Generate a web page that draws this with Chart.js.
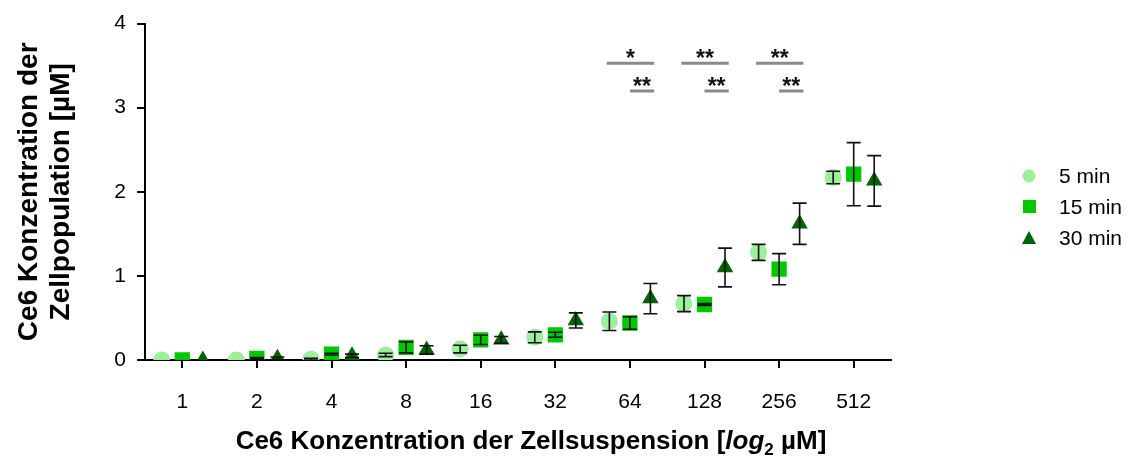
<!DOCTYPE html>
<html>
<head>
<meta charset="utf-8">
<script src="https://cdn.jsdelivr.net/npm/chart.js@4"></script>
<style>
    body { margin: 0; background: #fff; }
    .wrap { position: relative; width: 1133px; height: 469px; font-family: 'Liberation Sans', Arial, sans-serif; }
    .x-title {
        position: absolute; left: 531px; top: 425px; transform: translateX(-50%);
        font-weight: bold; font-size: 26px; white-space: nowrap; color: #000;
    }
    .x-title sub { font-size: 17px; }
    .legend { position: absolute; left: 1020px; top: 160px; font-size: 21px; color: #000; }
    .legend div { height: 31px; display: flex; align-items: center; }
    .legend span.mk { width: 18px; height: 14px; margin-right: 21px; display: inline-flex; justify-content: center; align-items: center; }
</style>
</head>
<body>
<div class="wrap">
    <canvas id="chart"></canvas>
    <div class="x-title">Ce6 Konzentration der Zellsuspension [<i>log</i><sub>2</sub> µM]</div>
    <div class="legend" id="legend"></div>
</div>
<script>
// concentrations (log2 scale, shown as categories)
const categories = ['1', '2', '4', '8', '16', '32', '64', '128', '256', '512'];

// mean Ce6 in the cell population [µM] and error
const min5 = [0, 0, 0.01, 0.06, 0.13, 0.27, 0.46, 0.67, 1.28, 2.17];
const min5Err = [0, 0, 0.01, 0.02, 0.045, 0.065, 0.11, 0.095, 0.095, 0.075];
const min15 = [0, 0.02, 0.07, 0.15, 0.24, 0.30, 0.44, 0.66, 1.08, 2.21];
const min15Err = [0, 0.01, 0.01, 0.065, 0.055, 0.03, 0.075, 0.01, 0.185, 0.375];
const min30 = [0, 0.02, 0.05, 0.12, 0.24, 0.47, 0.73, 1.10, 1.62, 2.13];
const min30Err = [0, 0.015, 0.02, 0.05, 0.04, 0.09, 0.18, 0.23, 0.245, 0.30];

const yTicks = [0, 1, 2, 3, 4];

// significance marks: group index, 5 vs 30 min, 15 vs 30 min
const sigGroups = [6, 7, 8];
const sigUpper = ['*', '**', '**'];
const sigLower = ['**', '**', '**'];

const FONT = "'Liberation Sans', Arial, sans-serif";
const dodge = [-0.275, 0, 0.275];

const seriesDefs = [
    { label: '5 min', values: min5, errors: min5Err, color: '#9cf09c', style: 'circle', radius: 8.5 },
    { label: '15 min', values: min15, errors: min15Err, color: '#00c800', style: 'rect', radius: 10.8 },
    { label: '30 min', values: min30, errors: min30Err, color: '#006400', style: 'triangle', radius: 9.5 }
];

const datasets = seriesDefs.map((s, k) => ({
    label: s.label,
    data: s.values.map((v, i) => ({ x: i + dodge[k], y: v })),
    errors: s.errors,
    backgroundColor: s.color,
    borderColor: s.color,
    borderWidth: 0,
    pointStyle: s.style,
    pointRadius: s.radius,
    showLine: false
}));

const errorBars = {
    id: 'errorBars',
    afterDatasetsDraw(chart) {
        const { ctx, scales: { x, y } } = chart;
        ctx.save();
        ctx.strokeStyle = '#111';
        ctx.lineWidth = 1.6;
        chart.data.datasets.forEach(ds => {
            ds.data.forEach((p, i) => {
                const e = ds.errors[i];
                if (!e) return;
                const px = x.getPixelForValue(p.x);
                const top = y.getPixelForValue(p.y + e);
                const bot = y.getPixelForValue(p.y - e);
                ctx.beginPath();
                ctx.moveTo(px, top); ctx.lineTo(px, bot);
                ctx.moveTo(px - 7, top); ctx.lineTo(px + 7, top);
                ctx.moveTo(px - 7, bot); ctx.lineTo(px + 7, bot);
                ctx.stroke();
            });
        });
        ctx.restore();
    }
};

const significance = {
    id: 'significance',
    afterDraw(chart) {
        const { ctx, scales: { x, y } } = chart;
        const upperY = y.getPixelForValue(3.53);
        const lowerY = y.getPixelForValue(3.2);
        const x0 = dodge[0] - 0.035, x1 = dodge[2] + 0.05;
        ctx.save();
        ctx.strokeStyle = '#8a8a8a';
        ctx.lineWidth = 3;
        ctx.fillStyle = '#111';
        ctx.font = 'bold 23px ' + FONT;
        ctx.textAlign = 'center';
        ctx.textBaseline = 'alphabetic';
        sigGroups.forEach((g, i) => {
            const a = x.getPixelForValue(g + x0);
            const b = x.getPixelForValue(g + x1);
            const m = x.getPixelForValue(g + dodge[1]);
            ctx.beginPath();
            ctx.moveTo(a, upperY); ctx.lineTo(b, upperY);
            ctx.moveTo(m, lowerY); ctx.lineTo(b, lowerY);
            ctx.stroke();
            ctx.fillText(sigUpper[i], (a + b) / 2, upperY + 3);
            ctx.fillText(sigLower[i], (m + b) / 2, lowerY + 3);
        });
        ctx.restore();
    }
};

new Chart(document.getElementById('chart'), {
    type: 'scatter',
    data: { datasets },
    plugins: [errorBars, significance],
    options: {
        responsive: true,
        maintainAspectRatio: false,
        animation: false,
        layout: { padding: { top: 23, right: 242, bottom: 0, left: 0 } },
        plugins: {
            legend: { display: false },
            tooltip: { enabled: false }
        },
        scales: {
            x: {
                type: 'linear',
                min: -0.5,
                max: categories.length - 0.5,
                afterBuildTicks: (scale) => { scale.ticks = categories.map((c, i) => ({ value: i })); },
                afterFit: (scale) => { scale.height = 109; },
                grid: { drawOnChartArea: false, drawTicks: true, tickLength: 8, color: '#000', lineWidth: 2 },
                border: { color: '#000', width: 2 },
                ticks: {
                    callback: (v) => categories[v],
                    color: '#000',
                    padding: 22,
                    maxRotation: 0,
                    font: { family: FONT, size: 21 }
                }
            },
            y: {
                min: 0,
                max: 4,
                afterBuildTicks: (scale) => { scale.ticks = yTicks.map(v => ({ value: v })); },
                afterFit: (scale) => { scale.width = 145; },
                grid: { drawOnChartArea: false, drawTicks: true, tickLength: 8, color: '#000', lineWidth: 2 },
                border: { color: '#000', width: 2 },
                ticks: {
                    color: '#000',
                    padding: 11,
                    font: { family: FONT, size: 21 }
                },
                title: {
                    display: true,
                    text: ['Ce6 Konzentration der', 'Zellpopulation [µM]'],
                    color: '#000',
                    padding: { top: 13, bottom: 0 },
                    font: { family: FONT, size: 28, weight: 'bold', lineHeight: 1.15 }
                }
            }
        }
    }
});

// legend drawn as html so the labels stay plain text
const legendBox = document.getElementById('legend');
seriesDefs.forEach(s => {
    const row = document.createElement('div');
    const mk = document.createElement('span');
    mk.className = 'mk';
    if (s.style === 'circle') {
        mk.innerHTML = `<svg width="14" height="14"><circle cx="7" cy="7" r="6.5" fill="${s.color}"/></svg>`;
    } else if (s.style === 'rect') {
        mk.innerHTML = `<svg width="13" height="13"><rect width="13" height="13" fill="${s.color}"/></svg>`;
    } else {
        mk.innerHTML = `<svg width="14" height="13"><polygon points="7,0 14,13 0,13" fill="${s.color}"/></svg>`;
    }
    row.appendChild(mk);
    row.appendChild(document.createTextNode(s.label));
    legendBox.appendChild(row);
});
</script>
</body>
</html>
